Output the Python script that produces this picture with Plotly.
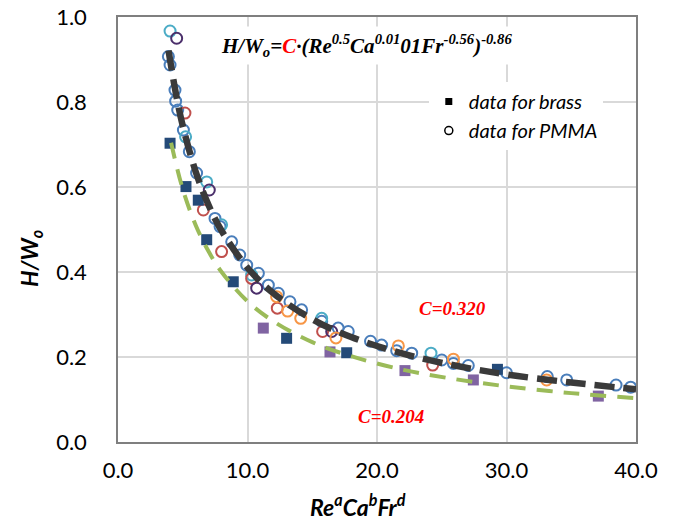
import plotly.graph_objects as go

# ---- data ----
blue_x = [3.89, 4.02, 4.40, 4.45, 4.61, 5.05, 5.51, 6.07, 7.49, 7.88, 8.78, 9.40, 9.94, 10.84, 11.61, 12.38,
          13.28, 14.18, 15.73, 17.0, 17.78, 19.5, 20.36, 21.52, 22.68, 25.0, 25.9, 27.05, 30.0, 33.15, 34.65,
          38.46, 39.59]
blue_y = [0.907, 0.887, 0.828, 0.802, 0.781, 0.734, 0.683, 0.633, 0.526, 0.507, 0.471, 0.440, 0.416, 0.397,
          0.369, 0.350, 0.330, 0.311, 0.284, 0.268, 0.260, 0.237, 0.228, 0.215, 0.209, 0.193, 0.185, 0.180,
          0.163, 0.154, 0.146, 0.134, 0.129]
teal_x = [4.02, 5.22, 6.85, 8.0, 10.32, 15.73, 24.17]
teal_y = [0.967, 0.718, 0.612, 0.511, 0.393, 0.291, 0.209]
red_x = [5.17, 6.59, 8.0, 10.32, 12.3, 15.8, 24.3]
red_y = [0.774, 0.546, 0.448, 0.385, 0.315, 0.260, 0.181]
dpurple_x = [4.53, 7.05, 10.71, 16.5]
dpurple_y = [0.950, 0.593, 0.362, 0.260]
orange_x = [12.25, 13.1, 14.11, 16.83, 21.65, 25.9, 33.1]
orange_y = [0.342, 0.308, 0.291, 0.245, 0.226, 0.195, 0.146]

navy_sq_x = [4.02, 5.25, 6.20, 6.85, 8.9, 13.02, 17.66, 29.3]
navy_sq_y = [0.703, 0.601, 0.569, 0.476, 0.377, 0.244, 0.210, 0.171]
purple_sq_x = [11.22, 16.37, 22.16, 27.44, 37.09]
purple_sq_y = [0.268, 0.212, 0.168, 0.146, 0.108]

fit_hi_x = [3.9, 4.5, 5, 6, 7, 8, 10, 12, 15, 18, 22, 26, 30, 35, 40]
fit_hi_y = [0.921, 0.815, 0.744, 0.636, 0.557, 0.497, 0.410, 0.350, 0.289, 0.247, 0.208, 0.180, 0.159, 0.140, 0.124]
fit_lo_x = [4.1, 5, 6, 7, 8, 10, 12, 15, 18, 22, 26, 30, 35, 40]
fit_lo_y = [0.704, 0.595, 0.510, 0.448, 0.400, 0.331, 0.284, 0.235, 0.202, 0.170, 0.148, 0.131, 0.115, 0.103]

x_ticks = [0, 10, 20, 30, 40]
y_ticks = [0.0, 0.2, 0.4, 0.6, 0.8, 1.0]

fig = go.Figure()

def circles(x, y, color):
    fig.add_trace(go.Scatter(x=x, y=y, mode="markers", showlegend=False,
                             marker=dict(symbol="circle-open", size=11, color=color,
                                         line=dict(width=2, color=color))))

def squares(x, y, color):
    fig.add_trace(go.Scatter(x=x, y=y, mode="markers", showlegend=False,
                             marker=dict(symbol="square", size=11, color=color)))

circles(blue_x, blue_y, "#4A7EBB")
circles(teal_x, teal_y, "#4BACC6")
circles(red_x, red_y, "#C0504D")
circles(dpurple_x, dpurple_y, "#4B2F6B")
circles(orange_x, orange_y, "#F79646")
squares(navy_sq_x, navy_sq_y, "#244A78")
squares(purple_sq_x, purple_sq_y, "#8064A2")

fig.add_trace(go.Scatter(x=fit_lo_x, y=fit_lo_y, mode="lines", showlegend=False, line_shape="spline",
                         line=dict(color="#9BBB59", width=4, dash="16px,11px")))
fig.add_trace(go.Scatter(x=fit_hi_x, y=fit_hi_y, mode="lines", showlegend=False, line_shape="spline",
                         line=dict(color="#3A3A3A", width=6.5, dash="20px,9px")))

# legend entries
fig.add_trace(go.Scatter(x=[None], y=[None], mode="markers", name="<i>data for brass</i>",
                         marker=dict(symbol="square", size=7, color="black")))
fig.add_trace(go.Scatter(x=[None], y=[None], mode="markers", name="<i>data for PMMA</i>",
                         marker=dict(symbol="circle-open", size=8, color="black", line=dict(width=1.5, color="black"))))

fig.add_annotation(xref="paper", yref="paper", x=0.189, y=0.934, xanchor="left", yanchor="middle",
                   showarrow=False, bgcolor="white", borderpad=4,
                   font=dict(family="Liberation Serif", size=21, color="black"),
                   text="<b><i>H/W<sub>o</sub>=<span style='color:#FF0000'>C</span>·(Re<sup>0.5</sup>Ca<sup>0.01</sup>01Fr<sup>-0.56</sup>)<sup>-0.86</sup></i></b>")
fig.add_annotation(x=25.8, y=0.315, showarrow=False,
                   font=dict(family="Liberation Serif", size=19, color="#FF0000"),
                   text="<b><i>C=0.320</i></b>")
fig.add_annotation(x=21.1, y=0.061, showarrow=False,
                   font=dict(family="Liberation Serif", size=19, color="#FF0000"),
                   text="<b><i>C=0.204</i></b>")
# axis titles
fig.add_annotation(xref="paper", yref="paper", x=(358 - 118) / 518, y=-(505 - 442) / 425,
                   xanchor="center", yanchor="middle", showarrow=False,
                   font=dict(family="Lato", size=23, color="black"),
                   text="<b><i>Re<sup>a</sup>Ca<sup>b</sup>Fr<sup>d</sup></i></b>")
fig.add_annotation(xref="paper", yref="paper", x=-(118 - 30) / 518, y=(442 - 259) / 425,
                   xanchor="center", yanchor="middle", showarrow=False, textangle=-90,
                   font=dict(family="Lato", size=23, color="black"),
                   text="<b><i>H/W<sub>o</sub></i></b>")

axis_common = dict(showgrid=True, gridcolor="#D9D9D9", gridwidth=1.5, zeroline=False, automargin=False,
                   showline=True, linecolor="#7F7F7F", linewidth=1.5, mirror=True, ticks="",
                   ticklabeloverflow="allow",
                   tickfont=dict(family="Lato", size=22, color="black"))

fig.update_layout(
    width=674, height=521,
    margin=dict(l=118, r=38, t=17, b=79, autoexpand=False),
    paper_bgcolor="white", plot_bgcolor="white",
    xaxis=dict(range=[0, 40], tickvals=x_ticks, tickformat=".1f", ticklabelstandoff=8, **axis_common),
    yaxis=dict(range=[0, 1.0], tickvals=y_ticks, tickformat=".1f", ticklabelstandoff=25, **axis_common),
    legend=dict(x=0.60, y=0.847, xanchor="left", yanchor="top", bgcolor="white",
                font=dict(family="Lato", size=20, color="black"), itemwidth=30, tracegroupgap=0),
    showlegend=True,
)

fig.write_html("out.html", config={"displayModeBar": False},
               post_script="document.body.style.margin='0px';document.body.style.overflow='hidden';")
